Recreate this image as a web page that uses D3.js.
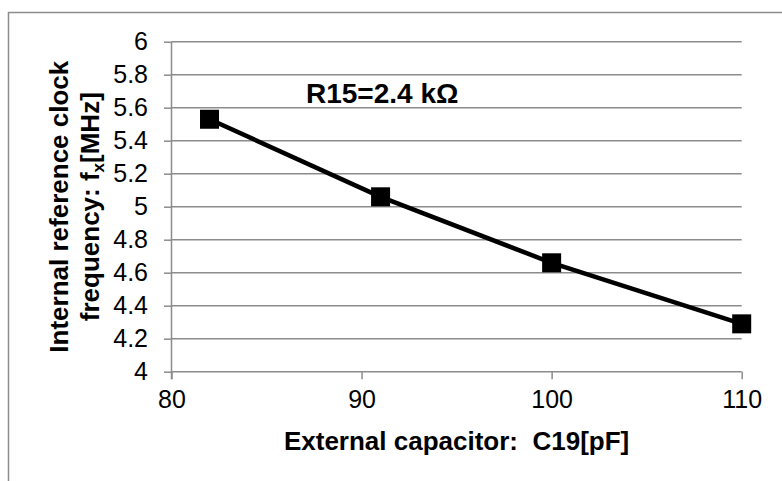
<!DOCTYPE html>
<html>
<head>
<meta charset="utf-8">
<style>
  body { margin: 0; background: #fff; }
  svg { display: block; font-family: "Liberation Sans", Arial, sans-serif; }
  .axis .domain { display: none; }
  .axis line { stroke: #8c8c8c; stroke-width: 1.5; }
  .axis text { fill: #000; font-size: 25px; font-family: "Liberation Sans", Arial, sans-serif; }
</style>
</head>
<body>
<svg width="782" height="481"></svg>
<script src="https://d3js.org/d3.v7.min.js"></script>
<script>
  // data
  var capacitance = [82, 91, 100, 110];
  var frequency = [5.53, 5.06, 4.66, 4.29];
  var xTicks = [80, 90, 100, 110];
  var yTicks = [4, 4.2, 4.4, 4.6, 4.8, 5, 5.2, 5.4, 5.6, 5.8, 6];

  var svg = d3.select("svg"),
    margin = { top: 41.7, right: 40.3, bottom: 109.3, left: 171.5 },
    width = +svg.attr("width") - margin.left - margin.right,
    height = +svg.attr("height") - margin.top - margin.bottom,
    g = svg.append("g").attr("transform", "translate(" + margin.left + "," + margin.top + ")");

  // outer chart frame (runs off right/bottom edges)
  svg.append("rect")
    .attr("x", 8.5).attr("y", 12.5)
    .attr("width", 800).attr("height", 500)
    .attr("fill", "none")
    .attr("stroke", "#8c8c8c")
    .attr("stroke-width", 1.5);

  var x = d3.scaleLinear().domain([80, 110]).range([0, width]);
  var y = d3.scaleLinear().domain([4, 6]).range([height, 0]);

  // horizontal gridlines
  g.append("g")
    .selectAll("line")
    .data(yTicks)
    .enter().append("line")
    .attr("x1", 0).attr("x2", width)
    .attr("y1", function(d) { return y(d); })
    .attr("y2", function(d) { return y(d); })
    .attr("stroke", "#8c8c8c")
    .attr("stroke-width", 1.5);

  // vertical axis line
  g.append("line")
    .attr("x1", 0).attr("x2", 0)
    .attr("y1", 0).attr("y2", height + 7.5)
    .attr("stroke", "#8c8c8c")
    .attr("stroke-width", 1.5);

  g.append("g")
    .attr("class", "axis")
    .attr("transform", "translate(0," + height + ")")
    .call(d3.axisBottom(x).tickValues(xTicks).tickSize(7.5).tickPadding(11).tickFormat(d3.format("d")));

  g.append("g")
    .attr("class", "axis")
    .call(d3.axisLeft(y).tickValues(yTicks).tickSize(7.5).tickPadding(16).tickFormat(function(d) { return +d.toFixed(1); }));

  var pts = capacitance.map(function(c, i) { return [c, frequency[i]]; });

  g.append("path")
    .datum(pts)
    .attr("fill", "none")
    .attr("stroke", "#000")
    .attr("stroke-width", 4.5)
    .attr("d", d3.line()
      .x(function(d) { return x(d[0]); })
      .y(function(d) { return y(d[1]); }));

  g.append("g")
    .selectAll("rect")
    .data(pts)
    .enter().append("rect")
    .attr("x", function(d) { return x(d[0]) - 9.5; })
    .attr("y", function(d) { return y(d[1]) - 9.5; })
    .attr("width", 19)
    .attr("height", 19)
    .attr("fill", "#000");

  // annotation
  svg.append("text")
    .attr("x", 306)
    .attr("y", 103)
    .attr("font-size", 28)
    .attr("font-weight", "bold")
    .text("R15=2.4 kΩ");

  // x axis title
  svg.append("text")
    .attr("x", margin.left + width / 2)
    .attr("y", 450)
    .attr("text-anchor", "middle")
    .attr("font-size", 26)
    .attr("font-weight", "bold")
    .attr("xml:space", "preserve")
    .style("white-space", "pre")
    .text("External capacitor:  C19[pF]");

  // y axis title, two lines
  var yt = svg.append("text")
    .attr("transform", "translate(0," + (margin.top + height / 2) + ") rotate(-90)")
    .attr("text-anchor", "middle")
    .attr("font-size", 26)
    .attr("font-weight", "bold");
  yt.append("tspan").attr("x", 0).attr("y", 68).text("Internal reference clock");
  var l2 = yt.append("tspan").attr("x", 0).attr("y", 99);
  l2.append("tspan").text("frequency: f");
  l2.append("tspan").attr("font-size", 17).attr("dy", 5).text("x");
  l2.append("tspan").attr("dy", -5).text("[MHz]");
</script>
</body>
</html>
